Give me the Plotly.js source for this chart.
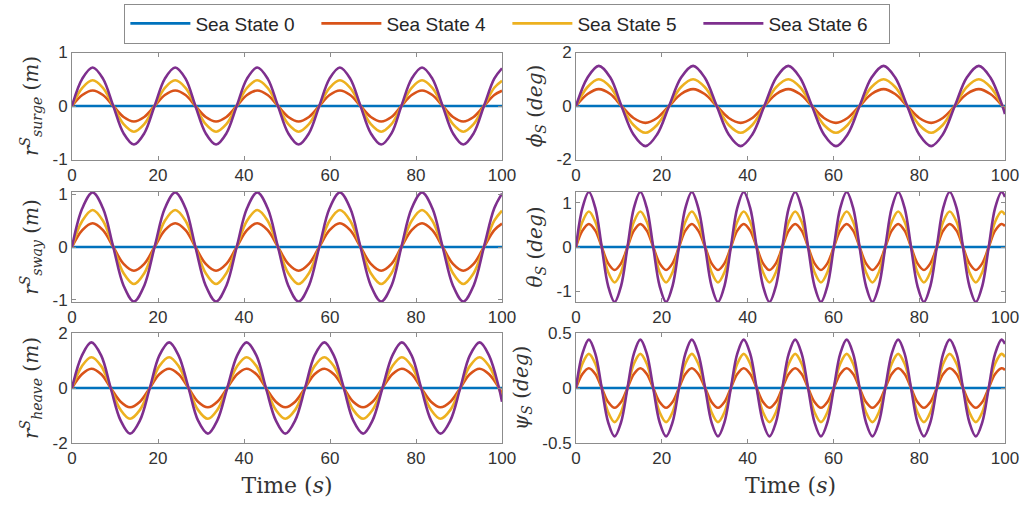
<!DOCTYPE html>
<html>
<head>
<meta charset="utf-8">
<script src="https://cdn.plot.ly/plotly-3.0.1.min.js"></script>
<style>
  html, body { margin: 0; padding: 0; background: #ffffff; }
  #chart { width: 1025px; height: 505px; }
</style>
</head>
<body>
<div id="chart"></div>
<script>
// Ship motion responses for four sea states over 0-100 s.
// Each panel lists sample times (s) along the wave, the normalised level
// of the wave at those times, and the crest height of every sea state.

const seaStates = ['Sea State 0', 'Sea State 4', 'Sea State 5', 'Sea State 6'];

// Surge (m)
const surgeTime = [
  0, 2.4, 4.8, 7.2, 9.6, 12.0, 14.4, 16.8,
  19.2, 21.6, 24.0, 26.4, 28.7, 31.1, 33.5, 35.9,
  38.3, 40.7, 43.1, 45.5, 47.9, 50.3, 52.7, 55.1,
  57.5, 59.9, 62.3, 64.7, 67.1, 69.5, 71.9, 74.3,
  76.6, 79.0, 81.4, 83.8, 86.2, 88.6, 91.0, 93.4,
  95.8, 98.2, 100];
const surgeLevel = [
  0, 0.71, 1, 0.71, 0, -0.71, -1, -0.71,
  0, 0.71, 1, 0.71, 0, -0.71, -1, -0.71,
  0, 0.71, 1, 0.71, 0, -0.71, -1, -0.71,
  0, 0.71, 1, 0.71, 0, -0.71, -1, -0.71,
  0, 0.71, 1, 0.71, 0, -0.71, -1, -0.71,
  0, 0.71, 0.98];
const surgeAmp = [0, 0.29, 0.48, 0.72];

// Roll (deg)
const rollTime = [
  0, 2.7, 5.3, 8.0, 10.6, 13.4, 16.2, 18.9,
  21.7, 24.5, 27.3, 30.0, 32.8, 35.6, 38.4, 41.1,
  43.9, 46.7, 49.5, 52.2, 55.0, 57.8, 60.6, 63.3,
  66.1, 68.9, 71.7, 74.4, 77.2, 80.0, 82.8, 85.5,
  88.3, 91.1, 93.9, 96.6, 99.4, 100];
const rollLevel = [
  0, 0.71, 1, 0.71, 0, -0.71, -1, -0.71,
  0, 0.71, 1, 0.71, 0, -0.71, -1, -0.71,
  0, 0.71, 1, 0.71, 0, -0.71, -1, -0.71,
  0, 0.71, 1, 0.71, 0, -0.71, -1, -0.71,
  0, 0.71, 1, 0.71, 0, -0.2];
const rollAmp = [0, 0.63, 1.0, 1.5];

// Sway (m)
const swayTime = [
  0, 2.4, 4.8, 7.2, 9.6, 12.0, 14.4, 16.8,
  19.2, 21.6, 24.0, 26.4, 28.7, 31.1, 33.5, 35.9,
  38.3, 40.7, 43.1, 45.5, 47.9, 50.3, 52.7, 55.1,
  57.5, 59.9, 62.3, 64.7, 67.1, 69.5, 71.9, 74.3,
  76.6, 79.0, 81.4, 83.8, 86.2, 88.6, 91.0, 93.4,
  95.8, 98.2, 100];
const swayLevel = [
  0, 0.71, 1, 0.71, 0, -0.71, -1, -0.71,
  0, 0.71, 1, 0.71, 0, -0.71, -1, -0.71,
  0, 0.71, 1, 0.71, 0, -0.71, -1, -0.71,
  0, 0.71, 1, 0.71, 0, -0.71, -1, -0.71,
  0, 0.71, 1, 0.71, 0, -0.71, -1, -0.71,
  0, 0.71, 0.98];
const swayAmp = [0, 0.45, 0.70, 1.03];

// Pitch (deg)
const pitchTime = [
  0, 1.5, 3.0, 4.5, 6.0, 7.5, 9.0, 10.5,
  12.0, 13.5, 15.0, 16.5, 18.0, 19.5, 21.0, 22.5,
  24.0, 25.5, 27.0, 28.5, 30.1, 31.6, 33.1, 34.6,
  36.1, 37.6, 39.1, 40.6, 42.1, 43.6, 45.1, 46.6,
  48.1, 49.6, 51.1, 52.6, 54.1, 55.6, 57.1, 58.6,
  60.1, 61.6, 63.1, 64.6, 66.1, 67.6, 69.1, 70.6,
  72.1, 73.6, 75.1, 76.6, 78.1, 79.6, 81.1, 82.6,
  84.1, 85.6, 87.1, 88.7, 90.2, 91.7, 93.2, 94.7,
  96.2, 97.7, 99.2, 100];
const pitchLevel = [
  0, 0.71, 1, 0.71, 0, -0.71, -1, -0.71,
  0, 0.71, 1, 0.71, 0, -0.71, -1, -0.71,
  0, 0.71, 1, 0.71, 0, -0.71, -1, -0.71,
  0, 0.71, 1, 0.71, 0, -0.71, -1, -0.71,
  0, 0.71, 1, 0.71, 0, -0.71, -1, -0.71,
  0, 0.71, 1, 0.71, 0, -0.71, -1, -0.71,
  0, 0.71, 1, 0.71, 0, -0.71, -1, -0.71,
  0, 0.71, 1, 0.71, 0, -0.71, -1, -0.71,
  0, 0.71, 1, 0.91];
const pitchAmp = [0, 0.52, 0.80, 1.24];

// Heave (m)
const heaveTime = [
  0, 2.3, 4.5, 6.8, 9.0, 11.3, 13.5, 15.8,
  18.1, 20.3, 22.6, 24.8, 27.1, 29.3, 31.6, 33.8,
  36.1, 38.4, 40.6, 42.9, 45.1, 47.4, 49.6, 51.9,
  54.2, 56.4, 58.7, 60.9, 63.2, 65.4, 67.7, 69.9,
  72.2, 74.5, 76.7, 79.0, 81.2, 83.5, 85.7, 88.0,
  90.3, 92.5, 94.8, 97.0, 99.3, 100];
const heaveLevel = [
  0, 0.71, 1, 0.71, 0, -0.71, -1, -0.71,
  0, 0.71, 1, 0.71, 0, -0.71, -1, -0.71,
  0, 0.71, 1, 0.71, 0, -0.71, -1, -0.71,
  0, 0.71, 1, 0.71, 0, -0.71, -1, -0.71,
  0, 0.71, 1, 0.71, 0, -0.71, -1, -0.71,
  0, 0.71, 1, 0.71, 0, -0.3];
const heaveAmp = [0, 0.70, 1.12, 1.66];

// Yaw (deg)
const yawTime = [
  0, 1.5, 3.0, 4.5, 6.0, 7.5, 9.0, 10.5,
  12.0, 13.5, 15.0, 16.5, 18.0, 19.5, 21.0, 22.5,
  24.0, 25.5, 27.0, 28.5, 30.1, 31.6, 33.1, 34.6,
  36.1, 37.6, 39.1, 40.6, 42.1, 43.6, 45.1, 46.6,
  48.1, 49.6, 51.1, 52.6, 54.1, 55.6, 57.1, 58.6,
  60.1, 61.6, 63.1, 64.6, 66.1, 67.6, 69.1, 70.6,
  72.1, 73.6, 75.1, 76.6, 78.1, 79.6, 81.1, 82.6,
  84.1, 85.6, 87.1, 88.7, 90.2, 91.7, 93.2, 94.7,
  96.2, 97.7, 99.2, 100];
const yawLevel = [
  0, 0.71, 1, 0.71, 0, -0.71, -1, -0.71,
  0, 0.71, 1, 0.71, 0, -0.71, -1, -0.71,
  0, 0.71, 1, 0.71, 0, -0.71, -1, -0.71,
  0, 0.71, 1, 0.71, 0, -0.71, -1, -0.71,
  0, 0.71, 1, 0.71, 0, -0.71, -1, -0.71,
  0, 0.71, 1, 0.71, 0, -0.71, -1, -0.71,
  0, 0.71, 1, 0.71, 0, -0.71, -1, -0.71,
  0, 0.71, 1, 0.71, 0, -0.71, -1, -0.71,
  0, 0.71, 1, 0.91];
const yawAmp = [0, 0.18, 0.31, 0.44];

const timeTicks = [0, 20, 40, 60, 80, 100];

// ---- styling ----
const seaColors = ['#0072BD', '#D95319', '#EDB120', '#7E2F8E'];
const axisGrey = '#8c8c8c';
const textGrey = '#333333';
const tickFont = { family: 'Liberation Sans, Arial, sans-serif', size: 17, color: textGrey };
const mathFont = { family: 'DejaVu Serif, Liberation Serif, serif', size: 20, color: textGrey };

const W = 1025, H = 505;
const colX = [[72, 502], [576, 1005]];
const rowY = [[52.5, 159.5], [192, 302], [333, 443]];

const panels = [
  { time: surgeTime, level: surgeLevel, amp: surgeAmp, row: 0, col: 0,
    range: [-1, 1], ticks: [-1, 0, 1], labels: ['-1', '0', '1'],
    title: '<i>r</i><sup><i>S</i></sup><sub><i>surge</i></sub> (<i>m</i>)' },
  { time: rollTime, level: rollLevel, amp: rollAmp, row: 0, col: 1,
    range: [-2, 2], ticks: [-2, 0, 2], labels: ['-2', '0', '2'],
    title: '<i>ϕ</i><sub><i>S</i></sub> (<i>deg</i>)' },
  { time: swayTime, level: swayLevel, amp: swayAmp, row: 1, col: 0,
    range: [-1.04, 1.04], ticks: [-1, 0, 1], labels: ['-1', '0', '1'],
    title: '<i>r</i><sup><i>S</i></sup><sub><i>sway</i></sub> (<i>m</i>)' },
  { time: pitchTime, level: pitchLevel, amp: pitchAmp, row: 1, col: 1,
    range: [-1.24, 1.24], ticks: [-1, 0, 1], labels: ['-1', '0', '1'],
    title: '<i>θ</i><sub><i>S</i></sub> (<i>deg</i>)' },
  { time: heaveTime, level: heaveLevel, amp: heaveAmp, row: 2, col: 0,
    range: [-2, 2], ticks: [-2, 0, 2], labels: ['-2', '0', '2'],
    title: '<i>r</i><sup><i>S</i></sup><sub><i>heave</i></sub> (<i>m</i>)' },
  { time: yawTime, level: yawLevel, amp: yawAmp, row: 2, col: 1,
    range: [-0.5, 0.5], ticks: [-0.5, 0, 0.5], labels: ['-0.5', '0', '0.5'],
    title: '<i>ψ</i><sub><i>S</i></sub> (<i>deg</i>)' }
];

const traces = [];
const layout = {
  width: W, height: H,
  margin: { l: 0, r: 0, t: 0, b: 0 },
  paper_bgcolor: '#ffffff',
  plot_bgcolor: '#ffffff',
  showlegend: true,
  legend: {
    orientation: 'h',
    x: 0.495, xanchor: 'center',
    y: 0.993, yanchor: 'top',
    bgcolor: '#ffffff',
    bordercolor: axisGrey, borderwidth: 1,
    font: { family: 'Liberation Sans, Arial, sans-serif', size: 19, color: '#262626' },
    itemwidth: 60,
    entrywidth: 116,
    traceorder: 'normal'
  }
};

const commonAxis = {
  showline: true, linecolor: axisGrey, linewidth: 1,
  mirror: 'ticks', ticks: 'inside', ticklen: 4, tickwidth: 1, tickcolor: axisGrey,
  showgrid: false, zeroline: false, tickfont: tickFont, fixedrange: true
};

panels.forEach((p, i) => {
  const n = i + 1;
  const suffix = n === 1 ? '' : String(n);
  const xd = colX[p.col], yd = rowY[p.row];

  const xaxis = Object.assign({}, commonAxis, {
    domain: [xd[0] / W, xd[1] / W],
    anchor: 'y' + suffix,
    range: [0, 100],
    tickvals: timeTicks,
    ticktext: timeTicks.map(String)
  });
  if (p.row === 2) {
    xaxis.title = { text: 'Time (<i>s</i>)', font: Object.assign({}, mathFont, { size: 22 }), standoff: 10 };
  }
  layout['xaxis' + suffix] = xaxis;

  layout['yaxis' + suffix] = Object.assign({}, commonAxis, {
    domain: [1 - yd[1] / H, 1 - yd[0] / H],
    anchor: 'x' + suffix,
    range: p.range,
    tickvals: p.ticks,
    ticktext: p.labels,
    title: { text: p.title, font: mathFont, standoff: 8 }
  });

  seaStates.forEach((name, s) => {
    traces.push({
      type: 'scatter', mode: 'lines',
      x: p.time,
      y: p.level.map(v => v * p.amp[s]),
      xaxis: 'x' + suffix, yaxis: 'y' + suffix,
      name: name,
      legendgroup: name,
      showlegend: i === 0,
      line: { color: seaColors[s], width: 2.6, shape: 'spline', smoothing: 1 },
      hoverinfo: 'skip'
    });
  });
});

Plotly.newPlot('chart', traces, layout, { staticPlot: true, displayModeBar: false });
</script>
</body>
</html>
